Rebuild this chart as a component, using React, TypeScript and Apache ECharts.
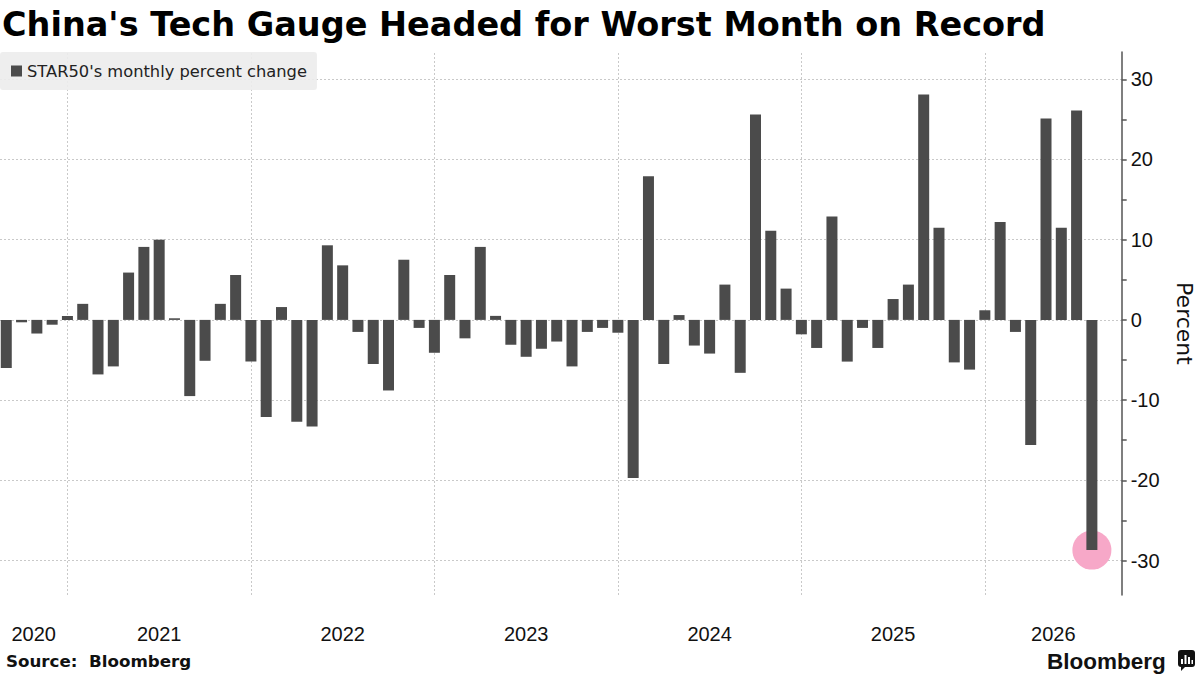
import React, { useEffect, useRef } from "react";
import * as echarts from "echarts";

// STAR50 monthly percent change, September 2020 onward
const seriesName = "STAR50's monthly percent change";
const titleText = "China's Tech Gauge Headed for Worst Month on Record";
const firstYear = 2020;
const firstMonth = 9;

const monthlyChange = [
  -6.0, -0.3, -1.7, -0.6, 0.5, 2.0, -6.8, -5.8, 5.9, 9.1,
  10.0, 0.2, -9.5, -5.1, 2.0, 5.6, -5.2, -12.1, 1.6, -12.7,
  -13.3, 9.3, 6.8, -1.5, -5.5, -8.8, 7.5, -1.0, -4.1, 5.6,
  -2.3, 9.1, 0.5, -3.1, -4.6, -3.6, -2.7, -5.8, -1.5, -1.0,
  -1.6, -19.7, 17.9, -5.5, 0.6, -3.2, -4.2, 4.4, -6.6, 25.6,
  11.1, 3.9, -1.8, -3.5, 12.9, -5.2, -1.0, -3.5, 2.6, 4.4,
  28.1, 11.5, -5.3, -6.2, 1.2, 12.2, -1.5, -15.6, 25.1, 11.5,
  26.1, -28.7,
];

const yLabelValues = [-30, -20, -10, 0, 10, 20, 30];
const yTickValues = [-30, -25, -20, -15, -10, -5, 0, 5, 10, 15, 20, 25, 30];

const xMin = -0.41;
const xMax = 72.95;
const yMin = -34.3;
const yMax = 33.4;

const barColor = "#4b4b4b";
const gridColor = "#c9c9c9";
const highlightColor = "#f7a8c8";

const yearOf = (i: number) => firstYear + Math.floor((i + firstMonth - 1) / 12);

// January bars mark the year boundaries
const januaryIdx = monthlyChange
  .map((_, i) => i)
  .filter((i) => i > 0 && (i + firstMonth - 1) % 12 === 0);

const years: number[] = [];
for (let y = yearOf(0); y <= yearOf(monthlyChange.length - 1); y++) years.push(y);

// Year labels sit in the middle of the visible part of each year
const bounds = [xMin, ...januaryIdx, xMax];
const yearCenters = years.map((_, k) => (bounds[k] + bounds[k + 1]) / 2);

const lastIdx = monthlyChange.length - 1;

export default function App() {
  const ref = useRef<HTMLDivElement>(null);

  useEffect(() => {
    if (!ref.current) return;
    const chart = echarts.init(ref.current, undefined, { renderer: "svg" });

    const option = {
      animation: false,
      backgroundColor: "#ffffff",
      textStyle: { fontFamily: "DejaVu Sans" },
      title: {
        text: titleText,
        left: 2,
        top: 7,
        padding: 0,
        textStyle: {
          fontFamily: "DejaVu Sans",
          fontSize: 33.5,
          fontWeight: "bold",
          color: "#000000",
        },
      },
      legend: {
        data: [seriesName],
        left: 0,
        top: 52,
        padding: [11, 10, 11, 11],
        backgroundColor: "rgba(236,236,236,0.9)",
        borderRadius: 3,
        icon: "rect",
        itemWidth: 11,
        itemHeight: 11,
        selectedMode: false,
        textStyle: { fontFamily: "DejaVu Sans", fontSize: 16.3, color: "#222222" },
      },
      grid: { left: 0, right: 78.3, top: 52, bottom: 80, outerBoundsMode: "none", containLabel: false },
      xAxis: {
        type: "value",
        min: xMin,
        max: xMax,
        axisLine: { show: false, onZero: false },
        axisTick: { show: false },
        splitLine: { show: false },
        axisLabel: {
          customValues: yearCenters,
          formatter: (val: number) => {
            const k = yearCenters.findIndex((c) => Math.abs(c - val) < 1e-6);
            return k >= 0 ? String(years[k]) : "";
          },
          fontFamily: "Liberation Sans",
          fontSize: 20,
          color: "#111111",
          margin: 29,
        },
      },
      yAxis: {
        type: "value",
        position: "right",
        min: yMin,
        max: yMax,
        name: "Percent",
        nameLocation: "middle",
        nameRotate: -90,
        nameGap: 52,
        nameTextStyle: { fontFamily: "DejaVu Sans", fontSize: 22, color: "#111111" },
        axisLine: { show: true, onZero: false, lineStyle: { color: "#555555", width: 1.5 } },
        axisTick: {
          show: true,
          customValues: yTickValues,
          length: 5,
          lineStyle: { color: "#555555", width: 1.5 },
        },
        axisLabel: {
          customValues: yLabelValues,
          fontFamily: "Liberation Sans",
          fontSize: 20,
          color: "#111111",
          margin: 9,
        },
        splitLine: { show: false },
      },
      series: [
        {
          name: "highlight",
          type: "scatter",
          z: 1,
          symbol: "circle",
          symbolSize: 39,
          silent: true,
          itemStyle: { color: highlightColor, opacity: 1 },
          data: [[lastIdx, monthlyChange[lastIdx]]],
        },
        {
          name: seriesName,
          type: "bar",
          z: 2,
          barWidth: 11,
          itemStyle: { color: barColor },
          data: monthlyChange.map((v, i) => [i, v]),
          markLine: {
            z: 0,
            silent: true,
            symbol: "none",
            label: { show: false },
            lineStyle: { type: [2, 2], color: gridColor, width: 1 },
            data: [
              ...januaryIdx.map((i) => ({ xAxis: i })),
              ...yLabelValues.map((v) => ({ yAxis: v })),
            ],
          },
        },
      ],
      graphic: [
        {
          type: "text",
          left: 6,
          top: 652,
          style: {
            text: "Source:  Bloomberg",
            font: 'bold 16.7px "DejaVu Sans"',
            fill: "#111111",
          },
        },
        {
          type: "text",
          x: 1047,
          y: 661,
          style: {
            text: "Bloomberg",
            font: 'bold 22.5px "Liberation Sans"',
            fill: "#111111",
            verticalAlign: "middle",
          },
        },
        {
          type: "group",
          x: 1178,
          y: 650,
          children: [
            { type: "rect", shape: { x: 0, y: 0, width: 17, height: 17, r: 3 }, style: { fill: "#111111" } },
            { type: "polygon", shape: { points: [[3, 16], [8, 16], [3, 21]] }, style: { fill: "#111111" } },
            { type: "rect", shape: { x: 3, y: 9, width: 2, height: 5 }, style: { fill: "#ffffff" } },
            { type: "rect", shape: { x: 6.5, y: 5, width: 2, height: 9 }, style: { fill: "#ffffff" } },
            { type: "rect", shape: { x: 10, y: 7, width: 2, height: 7 }, style: { fill: "#ffffff" } },
            { type: "rect", shape: { x: 13.5, y: 10, width: 1.5, height: 4 }, style: { fill: "#ffffff" } },
          ],
        },
      ],
    };

    chart.setOption(option as any);
    return () => chart.dispose();
  }, []);

  return (
    <div
      ref={ref}
      style={{ position: "fixed", left: 0, top: 0, width: 1200, height: 675, background: "#fff" }}
    />
  );
}
